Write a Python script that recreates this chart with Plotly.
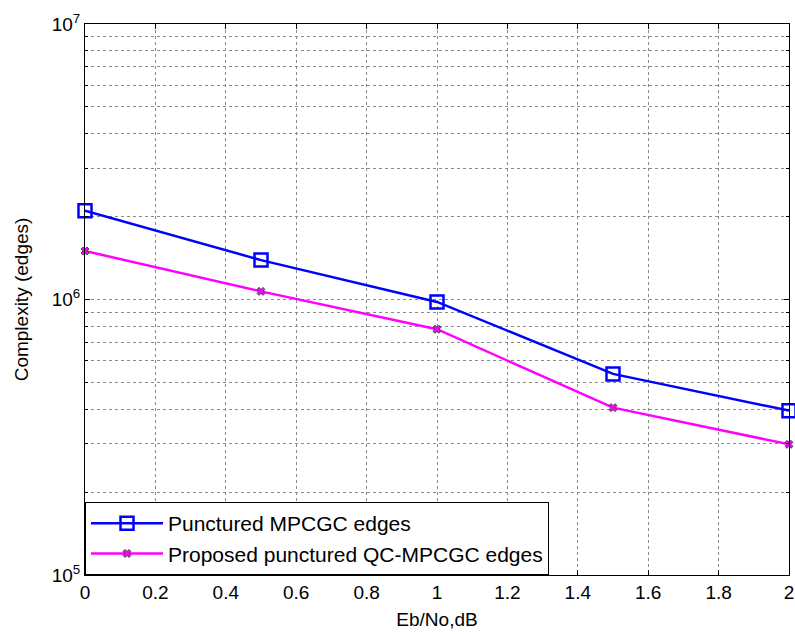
import plotly.graph_objects as go

ebno = [0, 0.5, 1, 1.5, 2]
mpcgc_edges = [2.1e6, 1.39e6, 0.98e6, 5.37e5, 3.95e5]
qc_mpcgc_edges = [1.50e6, 1.07e6, 7.8e5, 4.05e5, 2.98e5]

x_ticks = [0, 0.2, 0.4, 0.6, 0.8, 1, 1.2, 1.4, 1.6, 1.8, 2]
x_ticklabels = ["0", "0.2", "0.4", "0.6", "0.8", "1", "1.2", "1.4", "1.6", "1.8", "2"]
y_ticks = [1e5, 1e6, 1e7]
y_ticklabels = ["10<sup>5</sup>", "10<sup>6</sup>", "10<sup>7</sup>"]
y_minor = [m * 10 ** e for e in (5, 6) for m in range(2, 10)]

fig = go.Figure()
fig.add_trace(go.Scatter(
    x=ebno, y=mpcgc_edges, mode="lines+markers",
    name="Punctured MPCGC edges",
    line=dict(color="#0000ff", width=2.5),
    marker=dict(symbol="square-open", size=13, color="#0000ff", line=dict(width=2.5)),
    cliponaxis=False,
))
fig.add_trace(go.Scatter(
    x=ebno, y=qc_mpcgc_edges, mode="lines+markers",
    name="Proposed punctured QC-MPCGC edges",
    line=dict(color="#ff00ff", width=2.5),
    marker=dict(symbol="x", size=7, color="#ff00ff", line=dict(width=1)),
    cliponaxis=False,
))

grid = dict(gridcolor="#8a8a8a", griddash="dot", gridwidth=1)
fig.update_layout(
    width=795, height=634,
    margin=dict(l=85, r=6, t=24, b=59),
    paper_bgcolor="white", plot_bgcolor="white",
    font=dict(family="Liberation Sans, Arial, sans-serif", size=19, color="black"),
    showlegend=True,
    legend=dict(
        x=0, y=0, xanchor="left", yanchor="bottom",
        bgcolor="white", bordercolor="black", borderwidth=1,
        font=dict(size=21), tracegroupgap=0, itemwidth=72,
    ),
    xaxis=dict(
        range=[0, 2], tickvals=x_ticks, ticktext=x_ticklabels, automargin=False,
        showline=True, linecolor="black", linewidth=1, mirror="allticks",
        ticks="inside", ticklen=5, tickcolor="black",
        showgrid=True, zeroline=False, **grid,
        tickfont=dict(size=19),
        title=dict(text="Eb/No,dB", font=dict(size=19), standoff=10),
    ),
    yaxis=dict(
        type="log", range=[5, 7], tickvals=y_ticks, ticktext=y_ticklabels, automargin=False,
        showline=True, linecolor="black", linewidth=1, mirror="allticks",
        ticks="inside", ticklen=5, tickcolor="black",
        showgrid=True, zeroline=False, **grid,
        tickfont=dict(size=19),
        minor=dict(tickvals=y_minor, ticks="inside", ticklen=3, tickcolor="black",
                   showgrid=True, gridcolor="#8a8a8a", griddash="dot", gridwidth=1),
        title=dict(text="Complexity (edges)", font=dict(size=19), standoff=18),
    ),
)
fig.write_html("out.html", config={"displayModeBar": False},
               post_script="document.body.style.margin='0';document.body.style.overflow='hidden';")
